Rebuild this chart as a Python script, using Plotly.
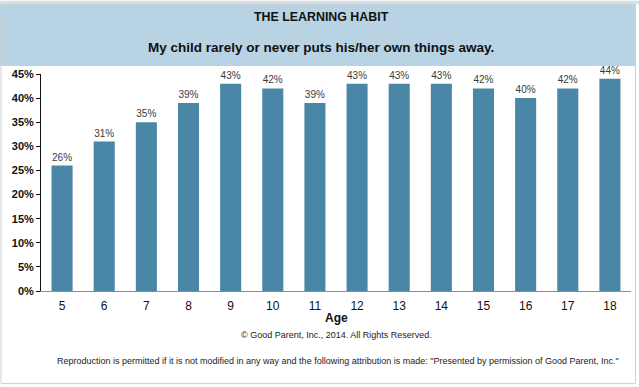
import plotly.graph_objects as go

ages = ["5", "6", "7", "8", "9", "10", "11", "12", "13", "14", "15", "16", "17", "18"]
percent = [26, 31, 35, 39, 43, 42, 39, 43, 43, 43, 42, 40, 42, 44]
y_ticks = [0, 5, 10, 15, 20, 25, 30, 35, 40, 45]
y_tick_labels = [f"{v}%" for v in y_ticks]

W, H = 639, 387
L, R, T, B = 41, 8, 73.5, 95.5
PW, PH = W - L - R, H - T - B

def px(x):
    return (x - L) / PW

def py(y):
    return (H - B - y) / PH

FONT = "Liberation Sans, Arial, sans-serif"
BAR = "#4a87a7"

fig = go.Figure(go.Bar(
    x=ages, y=percent,
    marker=dict(color=BAR, line=dict(width=0)),
    text=[f"{v}%" for v in percent], textposition="outside",
    textfont=dict(family=FONT, size=10, color="#3a3a3a"),
    cliponaxis=False,
))

shapes = [
    dict(type="rect", xref="paper", yref="paper", x0=px(0), x1=px(639), y0=py(0), y1=py(3.5),
         fillcolor="#d4dfe6", line=dict(width=0), layer="below"),
    dict(type="rect", xref="paper", yref="paper", x0=px(0), x1=px(636), y0=py(3.5), y1=py(65.5),
         fillcolor="#b8d3e3", line=dict(width=0), layer="below"),
    dict(type="rect", xref="paper", yref="paper", x0=px(1), x1=px(635.5), y0=py(3.5), y1=py(384.5),
         fillcolor="rgba(0,0,0,0)", line=dict(width=1, color="#cfcfcf"), layer="below"),
]

annotations = [
    dict(text="<b>THE LEARNING HABIT</b>", x=px(321), y=py(16.5), xref="paper", yref="paper",
         showarrow=False, font=dict(family=FONT, size=12.4, color="#111111"), xanchor="center", yanchor="middle"),
    dict(text="<b>My child rarely or never puts his/her own things away.</b>", x=px(321), y=py(46.5),
         xref="paper", yref="paper", showarrow=False, font=dict(family=FONT, size=13.5, color="#111111"),
         xanchor="center", yanchor="middle"),
    dict(text="<b>Age</b>", x=px(336), y=py(318.5), xref="paper", yref="paper", showarrow=False,
         font=dict(family=FONT, size=12, color="#111111"), xanchor="center", yanchor="middle"),
    dict(text="© Good Parent, Inc., 2014. All Rights Reserved.", x=px(336), y=py(336), xref="paper",
         yref="paper", showarrow=False, font=dict(family=FONT, size=9, color="#222222"),
         xanchor="center", yanchor="middle"),
    dict(text="Reproduction is permitted if it is not modified in any way and the following attribution is made: "
              "\"Presented by permission of Good Parent, Inc.\"",
         x=px(338), y=py(361.5), xref="paper", yref="paper", showarrow=False,
         font=dict(family=FONT, size=9, color="#222222"), xanchor="center", yanchor="middle"),
]

fig.update_layout(
    width=W, height=H,
    margin=dict(l=L, r=R, t=T, b=B, pad=0),
    paper_bgcolor="white", plot_bgcolor="white",
    bargap=0.5, showlegend=False,
    shapes=shapes, annotations=annotations,
    xaxis=dict(showline=True, linecolor="#8c8c8c", linewidth=1, ticks="", showgrid=False,
               ticklabelstandoff=4,
               tickfont=dict(family=FONT, size=12, color="#111111"), fixedrange=True),
    yaxis=dict(range=[0, 45], tickvals=y_ticks, ticktext=y_tick_labels, showline=True,
               linecolor="#111111", linewidth=1, ticks="outside", ticklen=4, tickcolor="#111111",
               showgrid=False, zeroline=False, fixedrange=True,
               tickfont=dict(family=FONT, size=11, color="#111111", weight="bold")),
)

fig.write_html("out.html", config={"displayModeBar": False},
               post_script="document.body.style.margin='0';document.body.style.padding='0';")
